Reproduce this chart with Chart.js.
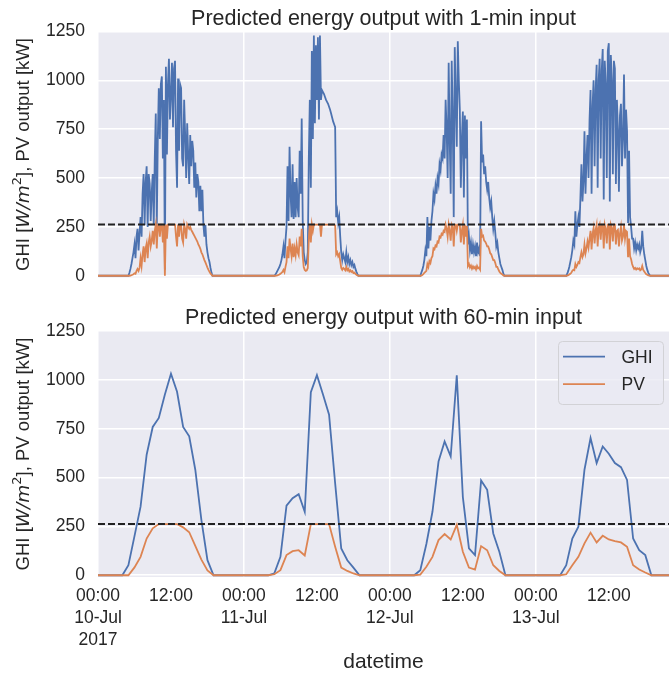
<!DOCTYPE html>
<html>
<head>
<meta charset="utf-8">
<title>Predicted energy output</title>
<script src="https://cdn.jsdelivr.net/npm/chart.js@4.4.1/dist/chart.umd.min.js"></script>
<style>
  html, body { margin: 0; padding: 0; background: #ffffff; }
  #page { position: relative; width: 669px; height: 675px; overflow: hidden; }
  #topChart { position: absolute; left: 0; top: 0; }
  #bottomChart { position: absolute; left: 0; top: 290px; }
</style>
</head>
<body>
<div id="page">
  <canvas id="topChart" width="669" height="301"></canvas>
  <canvas id="bottomChart" width="669" height="385"></canvas>
</div>
<script>
// GHI and predicted PV output, 10-13 Jul 2017: 1-min input (top) vs 60-min input (bottom)

// ── Axes ──────────────────────────────────────────────────
const hourTicks = [0, 12, 24, 36, 48, 60, 72, 84];   // hours since 10-Jul 00:00
const hourTickLabels = [
  ["00:00", "10-Jul", "2017"], "12:00",
  ["00:00", "11-Jul"], "12:00",
  ["00:00", "12-Jul"], "12:00",
  ["00:00", "13-Jul"], "12:00"
];
const yTicks = [0, 250, 500, 750, 1000, 1250];
const pvLimit = 262;   // kW, inverter limit (dashed line)

// ── 60-min input: one value per hour, 0..95 ───────────────
const ghiHourly = [
  0, 0, 0, 0, 0, 51, 200, 351, 617, 759, 805, 925, 1031, 939, 759, 711, 540, 283, 77, 0, 0, 0, 0, 0,
  0, 0, 0, 0, 0, 10, 94, 356, 394, 415, 325, 937, 1024, 925, 822, 470, 137, 77, 39, 0, 0, 0, 0, 0,
  0, 0, 0, 0, 0, 26, 160, 325, 582, 685, 608, 1023, 400, 137, 103, 485, 437, 214, 120, 0, 0, 0, 0, 0,
  0, 0, 0, 0, 0, 51, 188, 248, 540, 702, 574, 659, 622, 574, 553, 488, 188, 128, 103, 0, 0, 0, 0, 0
];
const pvHourly = [
  0, 0, 0, 0, 0, 0, 40, 94, 188, 240, 262, 262, 262, 262, 245, 220, 150, 80, 25, 0, 0, 0, 0, 0,
  0, 0, 0, 0, 0, 5, 26, 103, 123, 128, 101, 262, 262, 262, 262, 146, 39, 22, 9, 0, 0, 0, 0, 0,
  0, 0, 0, 0, 0, 3, 43, 94, 180, 211, 183, 258, 120, 39, 29, 149, 128, 51, 22, 0, 0, 0, 0, 0,
  0, 0, 0, 0, 0, 5, 51, 94, 163, 218, 168, 202, 183, 175, 168, 146, 51, 29, 14, 0, 0, 0, 0, 0
];

// ── 1-min input, taken every 10 min over daylight (one row per hour) ──
const fineStep = 1 / 6;                // hours between samples
const fineStarts = [5, 29, 53, 77];    // first daylight sample of each day
const ghiFineDay1 = [
  0, 15, 35, 60, 90, 120,
  160, 90, 200, 240, 130, 220,
  300, 200, 420, 520, 260, 480,
  560, 250, 520, 470, 280, 430,
  520, 260, 600, 830, 250, 700,
  960, 700, 980, 1020, 600, 900,
  30, 1070, 620, 980, 1110, 800,
  930, 1090, 760, 1060, 1100, 640,
  450, 1010, 640, 980, 960, 600,
  560, 900, 720, 500, 780, 620,
  470, 720, 560, 690, 640, 450,
  580, 400, 520, 480, 330, 460,
  330, 440, 260, 200, 260, 160,
  120, 90, 70, 40, 15, 0
];
const pvFineDay1 = [
  0, 0, 1, 3, 5, 8,
  12, 10, 25, 35, 25, 40,
  90, 50, 110, 150, 70, 140,
  165, 90, 170, 200, 150, 180,
  230, 160, 230, 262, 140, 262,
  262, 200, 262, 262, 170, 262,
  0, 262, 190, 262, 262, 262,
  262, 262, 262, 262, 262, 200,
  150, 262, 200, 262, 262, 190,
  170, 262, 240, 190, 262, 250,
  240, 250, 235, 225, 215, 205,
  195, 185, 175, 160, 150, 138,
  120, 110, 95, 80, 68, 55,
  42, 30, 20, 12, 5, 0
];
const ghiFineDay2 = [
  0, 5, 15, 25, 35, 45,
  60, 80, 110, 150, 90, 180,
  250, 560, 280, 660, 420, 300,
  570, 290, 480, 300, 500, 350,
  300, 640, 420, 805, 280, 120,
  80, 60, 70, 120, 600, 900,
  450, 1150, 700, 1230, 780, 1180,
  900, 1220, 800, 1230, 900, 950,
  940, 930, 915, 900, 890, 880,
  865, 850, 830, 810, 790, 775,
  760, 300, 330, 270, 300, 200,
  120, 80, 110, 90, 70, 120,
  70, 95, 60, 80, 55, 70,
  45, 55, 35, 20, 8, 0
];
const pvFineDay2 = [
  0, 0, 1, 2, 4, 6,
  10, 15, 20, 30, 18, 45,
  70, 150, 90, 190, 140, 100,
  165, 95, 140, 105, 160, 120,
  105, 200, 150, 240, 100, 45,
  30, 25, 28, 40, 190, 262,
  170, 262, 230, 262, 262, 262,
  262, 262, 262, 262, 200, 262,
  262, 262, 262, 262, 262, 262,
  262, 262, 262, 262, 262, 262,
  258, 110, 120, 100, 110, 75,
  40, 30, 40, 35, 28, 45,
  28, 35, 22, 28, 20, 24,
  14, 16, 10, 5, 2, 0
];
const ghiFineDay3 = [
  0, 15, 30, 50, 80, 130,
  100, 300, 140, 250, 180, 280,
  330, 420, 390, 460, 420, 500,
  470, 570, 540, 620, 600, 720,
  600, 900, 750, 500, 1090, 700,
  420, 1100, 800, 300, 1170, 900,
  660, 1200, 1000, 850, 450, 700,
  840, 400, 820, 600, 800, 160,
  200, 130, 170, 110, 160, 120,
  150, 100, 170, 120, 140, 100,
  790, 580, 620, 520, 560, 480,
  440, 480, 400, 350, 380, 300,
  240, 280, 220, 150, 170, 120,
  90, 60, 45, 30, 10, 0
];
const pvFineDay3 = [
  0, 1, 4, 8, 15, 20,
  25, 60, 45, 75, 65, 90,
  100, 140, 135, 155, 150, 175,
  170, 200, 195, 215, 210, 230,
  225, 262, 240, 200, 262, 230,
  180, 262, 250, 150, 262, 262,
  230, 262, 262, 262, 170, 230,
  262, 160, 262, 200, 255, 50,
  60, 42, 52, 36, 48, 38,
  45, 32, 50, 38, 42, 32,
  240, 200, 205, 180, 175, 165,
  150, 150, 135, 115, 110, 95,
  80, 80, 65, 45, 45, 32,
  22, 14, 10, 6, 2, 0
];
const ghiFineDay4 = [
  0, 10, 25, 45, 70, 95,
  130, 180, 160, 330, 200, 260,
  300, 250, 400, 570, 380, 480,
  740, 420, 600, 720, 500, 800,
  950, 420, 870, 1000, 560, 950,
  1080, 450, 1000, 1110, 600, 1050,
  1160, 390, 1100, 980, 500, 1150,
  1190, 380, 1130, 1000, 520, 1100,
  1060, 470, 900, 750, 430, 820,
  880, 560, 700, 1030, 600, 850,
  740, 270, 640, 300, 250, 190,
  190, 140, 170, 130, 160, 140,
  160, 120, 140, 230, 150, 110,
  80, 50, 30, 15, 5, 0
];
const pvFineDay4 = [
  0, 1, 3, 6, 10, 15,
  25, 30, 28, 60, 45, 55,
  70, 65, 95, 120, 95, 110,
  160, 115, 140, 175, 145, 190,
  230, 135, 215, 245, 165, 235,
  262, 150, 245, 262, 185, 262,
  262, 140, 262, 240, 165, 262,
  262, 135, 262, 245, 175, 262,
  262, 160, 230, 235, 150, 215,
  250, 180, 200, 262, 190, 230,
  225, 95, 190, 100, 85, 60,
  45, 35, 40, 32, 38, 34,
  38, 28, 32, 50, 30, 22,
  14, 8, 5, 2, 1, 0
];

// ── Style ─────────────────────────────────────────────────
const FONT = '"Liberation Sans", Arial, sans-serif';
const TEXT = "#262626";
const GHI_COLOR = "#4c72b0";
const PV_COLOR = "#dd8452";
const X_MAX = 93.9;

function hourlyPoints(values) {
  return values.map((v, i) => ({ x: i, y: v }));
}

function finePoints(days) {
  const pts = [{ x: 0, y: 0 }];
  days.forEach((values, d) => {
    values.forEach((v, i) => pts.push({ x: fineStarts[d] + i * fineStep, y: v }));
  });
  pts.push({ x: 96, y: 0 });
  return pts;
}

function seriesSets(ghi, pv, width) {
  const line = { pointRadius: 0, borderWidth: width, tension: 0, fill: false };
  return [
    { ...line, label: "GHI", data: ghi, borderColor: GHI_COLOR, order: 3 },
    { ...line, label: "PV", data: pv, borderColor: PV_COLOR, order: 2 },
    {
      label: "limit",
      data: [{ x: 0, y: pvLimit }, { x: 96, y: pvLimit }],
      borderColor: "#222222", borderWidth: 2, borderDash: [7, 3],
      pointRadius: 0, order: 1, noLegend: true
    }
  ];
}

// y label with mathtext-like parts: GHI [W/m^2], PV output [kW]
function drawYLabel(ctx, cx, cy) {
  const size = 18.5;
  const parts = [
    { text: "GHI [", font: `${size}px ${FONT}`, rise: 0 },
    { text: "W/m", font: `italic ${size}px "DejaVu Sans", sans-serif`, rise: 0 },
    { text: "2", font: `${size * 0.7}px "DejaVu Sans", sans-serif`, rise: size * 0.42 },
    { text: "], PV output [kW]", font: `${size}px ${FONT}`, rise: 0 }
  ];
  let total = 0;
  parts.forEach(p => { ctx.font = p.font; p.w = ctx.measureText(p.text).width; total += p.w; });
  ctx.save();
  ctx.translate(cx, cy);
  ctx.rotate(-Math.PI / 2);
  ctx.fillStyle = TEXT;
  ctx.textAlign = "left";
  ctx.textBaseline = "alphabetic";
  let x = -total / 2;
  const base = size * 0.36;
  parts.forEach(p => {
    ctx.font = p.font;
    ctx.fillText(p.text, x, base - p.rise);
    x += p.w;
  });
  ctx.restore();
}

function drawLegend(chart) {
  const { ctx, chartArea: a } = chart;
  const items = chart.data.datasets.filter(d => !d.noLegend);
  const boxW = 105, boxH = 63, rowH = 27.5;
  const x0 = a.right - 6 - boxW, y0 = a.top + 10;
  ctx.save();
  ctx.beginPath();
  ctx.roundRect(x0 + 0.5, y0 + 0.5, boxW, boxH, 4);
  ctx.fillStyle = "rgba(234,234,242,0.8)";
  ctx.fill();
  ctx.strokeStyle = "#d2d2d6";
  ctx.lineWidth = 1;
  ctx.stroke();
  ctx.font = `17.5px ${FONT}`;
  ctx.textBaseline = "middle";
  ctx.textAlign = "left";
  items.forEach((d, i) => {
    const y = y0 + 15.7 + i * rowH;
    ctx.strokeStyle = d.borderColor;
    ctx.lineWidth = 1.8;
    ctx.beginPath();
    ctx.moveTo(x0 + 5, y);
    ctx.lineTo(x0 + 47, y);
    ctx.stroke();
    ctx.fillStyle = TEXT;
    ctx.fillText(d.label, x0 + 63.5, y + 1);
  });
  ctx.restore();
}

const panelDecor = {
  id: "panelDecor",
  beforeDraw(chart) {
    const { ctx, chartArea: a } = chart;
    ctx.save();
    ctx.fillStyle = "#eaeaf2";
    ctx.fillRect(a.left, a.top, a.right - a.left, a.bottom - a.top);
    ctx.restore();
  },
  afterDraw(chart, args, opts) {
    const { ctx, chartArea: a } = chart;
    ctx.save();
    ctx.fillStyle = TEXT;
    ctx.font = `21.5px ${FONT}`;
    ctx.textAlign = "center";
    ctx.textBaseline = "alphabetic";
    ctx.fillText(opts.title, (a.left + a.right) / 2, a.top - 7);
    ctx.restore();
    drawYLabel(ctx, 22, (a.top + a.bottom) / 2);
    if (opts.legend) drawLegend(chart);
  }
};

function panelOptions(title, padTop, padBottom, xAxisHeight, showDates) {
  return {
    responsive: false,
    animation: false,
    events: [],
    layout: { autoPadding: false, padding: { top: padTop, left: 0, right: 0, bottom: padBottom } },
    plugins: {
      legend: { display: false },
      tooltip: { enabled: false },
      panelDecor: { title: title, legend: showDates }
    },
    scales: {
      x: {
        type: "linear",
        min: 0,
        max: X_MAX,
        afterBuildTicks: s => { s.ticks = hourTicks.map(v => ({ value: v })); },
        afterFit: s => { s.height = xAxisHeight; },
        grid: {
          color: c => (c.tick && c.tick.value % 24 === 0) ? "#ffffff" : "rgba(0,0,0,0)",
          lineWidth: 1.5,
          drawTicks: false
        },
        border: { display: false },
        ticks: {
          display: showDates,
          autoSkip: false,
          maxRotation: 0,
          padding: 8,
          color: TEXT,
          font: { family: FONT, size: 17.5, lineHeight: 1.25 },
          callback: v => hourTickLabels[hourTicks.indexOf(v)]
        },
        title: {
          display: showDates,
          text: "datetime",
          color: TEXT,
          font: { family: FONT, size: 21, lineHeight: 1.2 },
          padding: { top: 0, bottom: 0.5 }
        }
      },
      y: {
        min: -9,
        max: 1250,
        afterBuildTicks: s => { s.ticks = yTicks.map(v => ({ value: v })); },
        afterFit: s => { s.width = 98; },
        grid: { color: "#ffffff", lineWidth: 1.5, drawTicks: false },
        border: { display: false },
        ticks: {
          padding: 13,
          color: TEXT,
          font: { family: FONT, size: 17.5 },
          callback: v => String(v)
        }
      }
    }
  };
}

// top panel: no date labels under it
new Chart(document.getElementById("topChart").getContext("2d"), {
  type: "line",
  data: {
    datasets: seriesSets(
      finePoints([ghiFineDay1, ghiFineDay2, ghiFineDay3, ghiFineDay4]),
      finePoints([pvFineDay1, pvFineDay2, pvFineDay3, pvFineDay4]),
      1.8
    )
  },
  options: panelOptions("Predicted energy output with 1-min input", 31.5, 13.3, 0, false),
  plugins: [panelDecor]
});

new Chart(document.getElementById("bottomChart").getContext("2d"), {
  type: "line",
  data: { datasets: seriesSets(hourlyPoints(ghiHourly), hourlyPoints(pvHourly), 1.8) },
  options: panelOptions("Predicted energy output with 60-min input", 41, 0, 98, true),
  plugins: [panelDecor]
});
</script>
</body>
</html>
